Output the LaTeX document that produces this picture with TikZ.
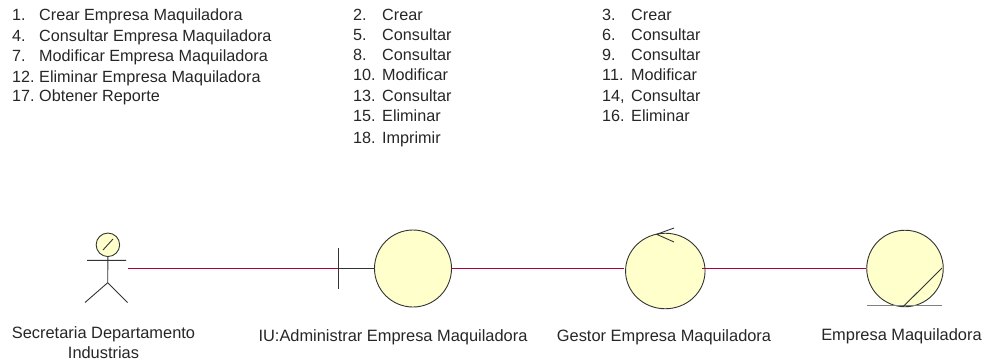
\documentclass[tikz,border=0pt]{standalone}
\usepackage{fontspec}
\usetikzlibrary{shapes.geometric}
\setmainfont{Liberation Sans}
\definecolor{umlfill}{HTML}{FFFFCB}
\definecolor{umlline}{HTML}{333333}
\definecolor{msgline}{HTML}{B00040}
\tikzset{
  lbl/.style={inner sep=0pt,anchor=base west,font=\fontsize{16.2}{18}\selectfont,text=black!85},
  captxt/.style={inner sep=0pt,anchor=base,align=center,font=\fontsize{16.4}{20}\selectfont,text=black!85},
  blob/.style={circle,draw=umlline,fill=umlfill,line width=0.9pt,inner sep=0pt,minimum size=#1},
  link/.style={draw=msgline,line width=1pt},
  stick/.style={draw=umlline,line width=0.9pt},
}
\begin{document}
\begin{tikzpicture}[x=1pt,y=-1pt]
\useasboundingbox (0,0) rectangle (986,362);
% message lists
\foreach \n/\t/\y [count=\i] in {1./Crear Empresa Maquiladora/20.7,4./Consultar Empresa Maquiladora/41.7,7./Modificar Empresa Maquiladora/61.7,12./Eliminar Empresa Maquiladora/82.3,17./Obtener Reporte/101.7}{
  \node[lbl] (a\i) at (12,\y) {\n};
  \node[lbl] (at\i) at (39,\y) {\t};
}
\foreach \n/\t/\y [count=\i] in {2./Crear/20,5./Consultar/40,8./Consultar/60,10./Modificar/80,13./Consultar/101.7,15./Eliminar/121.7,18./Imprimir/143}{
  \node[lbl] (b\i) at (353,\y) {\n};
  \node[lbl] (bt\i) at (382,\y) {\t};
}
\foreach \n/\t/\y [count=\i] in {3./Crear/20,6./Consultar/40,9./Consultar/60,11./Modificar/80,{14,}/Consultar/101.7,16./Eliminar/121.7}{
  \node[lbl] (c\i) at (602,\y) {\n};
  \node[lbl] (ct\i) at (631,\y) {\t};
}
% actor
\node[blob=23.5pt] (head) at (107.9,244.8) {};
\draw[stick] (103,250) -- (113,239);
\coordinate (hip) at (107.7,282.7);
\coordinate (armL) at (87,260.3);
\coordinate (armR) at (126,260.3);
\coordinate (legL) at (85,302.5);
\coordinate (legR) at (127.5,302.5);
\coordinate (hand) at (128,268.5);
\draw[stick] (head.south) -- (hip) (armL) -- (armR) (legL) -- (hip) -- (legR);
% boundary
\node[blob=77pt] (boundary) at (413,268.5) {};
\coordinate (barT) at (338,248);
\coordinate (barB) at (338,288.5);
\coordinate (barM) at (338,268.5);
\draw[stick] (barT) -- (barB);
\draw[stick] (barM) -- (boundary.west);
% control
\node[ellipse,draw=umlline,fill=umlfill,line width=0.9pt,inner sep=0pt,minimum width=79.5pt,minimum height=75.5pt] (control) at (665.3,271) {};
\draw[stick] (674,228) -- (656.7,234.3) -- (674,242);
% entity
\node[blob=76.5pt] (entity) at (905,268.5) {};
\draw[draw=gray,line width=1.3pt] (867,305.8) -- (942,305.8);
\draw[stick] (903.3,306.5) -- (942,268);
% links
\coordinate (ctrlIn) at (624,268.5);
\coordinate (ctrlOut) at (702,268.5);
\path[link] (hand) -- (barM);
\path[link] (boundary.east) -- (ctrlIn);
\path[link] (ctrlOut) -- (entity.west);
% captions
\node[captxt] (capA) at (103.5,338) {Secretaria Departamento};
\node[captxt] (capA2) at (103.5,358) {Industrias};
\node[captxt] (capB) at (393,341.7) {IU:Administrar Empresa Maquiladora};
\node[captxt] (capC) at (664,341.7) {Gestor Empresa Maquiladora};
\node[captxt] (capD) at (901.5,340.5) {Empresa Maquiladora};
\end{tikzpicture}
\end{document}
